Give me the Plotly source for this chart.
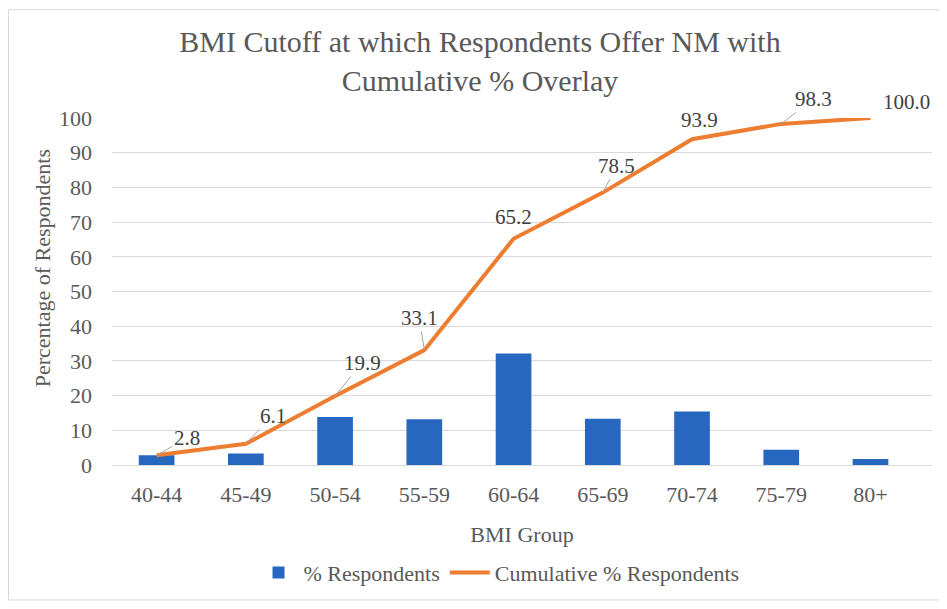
import plotly.graph_objects as go

categories = ["40-44", "45-49", "50-54", "55-59", "60-64", "65-69", "70-74", "75-79", "80+"]
pct_respondents = [2.8, 3.3, 13.8, 13.2, 32.1, 13.3, 15.4, 4.4, 1.7]
cumulative_pct = [2.8, 6.1, 19.9, 33.1, 65.2, 78.5, 93.9, 98.3, 100.0]
cum_labels = ["2.8", "6.1", "19.9", "33.1", "65.2", "78.5", "93.9", "98.3", "100.0"]
y_ticks = [0, 10, 20, 30, 40, 50, 60, 70, 80, 90, 100]

# label offsets (pixels) relative to the data point, and whether a leader line is drawn
label_offsets = [(30, -17, True), (27, -28, True), (27, -33, True), (-5, -32, True),
                 (0, -22, False), (14, -27, True), (7, -19, False), (32, -25, True),
                 (36, -16, False)]

FONT = "Liberation Serif"
TXT = "#595959"

OFF = 8  # page body margin
W, H = 937, 598
PL, PR, PT, PB = 112 - OFF, 932 - OFF, 118 - OFF, 469 - OFF  # plot area in figure px
ML, MR, MT, MB = PL, W - PR, PT, H - PB
PW, PH = PR - PL, PB - PT


def px(xr):
    return (xr - OFF - PL) / PW


def py(yr):
    return (PB - (yr - OFF)) / PH


fig = go.Figure()
fig.add_trace(go.Bar(
    x=categories, y=pct_respondents, name="% Respondents",
    marker=dict(color="#2767C0", line=dict(width=0)),
))
fig.add_trace(go.Scatter(
    x=categories, y=cumulative_pct, name="Cumulative % Respondents",
    mode="lines", line=dict(color="#ED7D31", width=4),
))

annotations = []
for cat, val, lab, (dx, dy, lead) in zip(categories, cumulative_pct, cum_labels, label_offsets):
    if lead:
        annotations.append(dict(
            x=cat, y=val, xref="x", yref="y", text=lab, showarrow=True,
            ax=dx, ay=dy, arrowhead=0, arrowwidth=1, arrowcolor="#A6A6A6",
            standoff=0, font=dict(family=FONT, size=21, color="#404040"),
        ))
    else:
        annotations.append(dict(
            x=cat, y=val, xref="x", yref="y", text=lab, showarrow=False,
            xshift=dx, yshift=-dy, font=dict(family=FONT, size=21, color="#404040"),
        ))

annotations.append(dict(
    text="Percentage of Respondents", textangle=-90, showarrow=False,
    xref="paper", yref="paper", x=px(42), y=py(270),
    xanchor="center", yanchor="middle",
    font=dict(family=FONT, size=22, color=TXT),
))

fig.update_layout(
    template="none",
    width=W, height=H,
    margin=dict(l=ML, r=MR, t=MT, b=MB),
    paper_bgcolor="white", plot_bgcolor="white",
    title=dict(
        text="BMI Cutoff at which Respondents Offer NM with<br>Cumulative % Overlay",
        x=(480 - OFF) / W, xanchor="center", y=1 - (52 - OFF) / H, yanchor="top",
        font=dict(family=FONT, size=30, color=TXT),
    ),
    bargap=0.6,
    showlegend=True,
    legend=dict(
        orientation="h", x=px(499), xanchor="center",
        y=py(578), yanchor="middle",
        font=dict(family=FONT, size=22, color=TXT), itemwidth=40,
    ),
    xaxis=dict(
        showgrid=False, showline=True, linecolor="#D9D9D9", linewidth=1,
        ticks="", ticklabelstandoff=10, tickfont=dict(family=FONT, size=22, color=TXT),
        title=dict(text="BMI Group", standoff=20, font=dict(family=FONT, size=22, color=TXT)),
    ),
    yaxis=dict(
        range=[0, 100], tickvals=y_ticks, showgrid=True, gridcolor="#D9D9D9", gridwidth=1,
        zeroline=False, showline=False, ticks="", ticklabelstandoff=19,
        tickfont=dict(family=FONT, size=22, color=TXT),
    ),
    annotations=annotations,
    shapes=[dict(type="rect", xref="paper", yref="paper",
                 x0=(0.5 - PL) / PW, x1=(W - 0.5 - PL) / PW,
                 y0=(PB - (H - 0.5)) / PH, y1=(PB - 0.5) / PH,
                 line=dict(color="#D9D9D9", width=1), fillcolor="rgba(0,0,0,0)", layer="below")],
)

fig.write_html("out.html")
